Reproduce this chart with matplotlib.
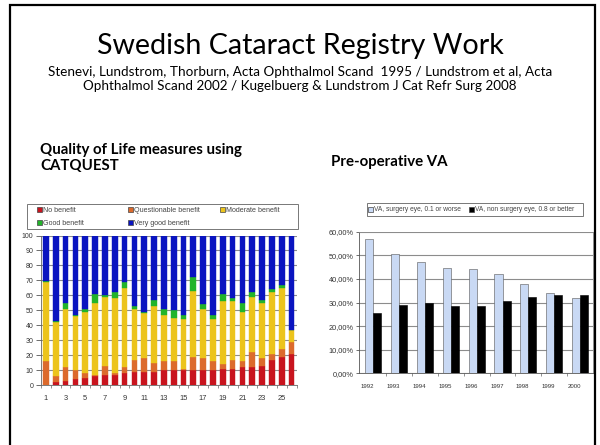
import numpy as np
import matplotlib
matplotlib.use("Agg")
import matplotlib.pyplot as plt
from matplotlib.patches import Rectangle
from matplotlib.ticker import FuncFormatter

# CATQUEST data (percent per category, 26 clinics)
cases = np.arange(1, 27)
no_benefit = [0, 2, 3, 4, 5, 6, 7, 7, 8, 9, 9, 9, 10, 10, 10, 10, 10, 10, 11, 11, 12, 12, 13, 17, 19, 21]
questionable = [16, 4, 9, 6, 3, 1, 6, 1, 4, 8, 9, 6, 6, 6, 1, 9, 8, 6, 3, 6, 4, 10, 5, 4, 5, 8]
moderate = [53, 36, 39, 36, 41, 48, 46, 50, 53, 34, 30, 38, 31, 29, 33, 44, 33, 28, 42, 39, 33, 37, 37, 41, 41, 8]
good = [0.5, 1, 4, 1, 2, 6, 1, 4, 4, 2, 1, 4, 4, 5, 3, 9, 3, 3, 5, 2, 6, 3, 2, 2, 2, 0]
very_good = [30.5, 57, 45, 53, 49, 39, 40, 38, 31, 47, 51, 43, 49, 50, 53, 28, 46, 53, 39, 42, 45, 38, 43, 36, 33, 63]
qol_labels = ["No benefit", "Questionable benefit", "Moderate benefit", "Good benefit", "Very good benefit"]
qol_colors = ["#c8141e", "#dc6a2c", "#ecc41c", "#22b42a", "#0a14c0"]

# Pre-operative VA data
years = ["1992", "1993", "1994", "1995", "1996", "1997", "1998", "1999", "2000"]
surgery_eye = [57.0, 50.5, 47.0, 44.7, 44.2, 42.0, 38.0, 34.0, 31.7]
other_eye = [25.5, 28.8, 30.0, 28.5, 28.5, 30.8, 32.5, 33.2, 33.2]
va_labels = ["VA, surgery eye, 0.1 or worse", "VA, non surgery eye, 0.8 or better"]
va_colors = ["#c9d9f4", "black"]

W, H = 600, 445
fig = plt.figure(figsize=(W / 100, H / 100), dpi=100)
fig.patch.set_facecolor("white")
CH = "Liberation Sans"


def box(x0, y0, x1, y1):
    # pixel box (top-left origin) -> figure fraction rect
    return [x0 / W, 1 - y1 / H, (x1 - x0) / W, (y1 - y0) / H]


def legend_box(x0, y0, x1, y1, entries, size):
    # Excel style legend: frame + fixed-position entries (x, y, label, colour)
    fig.add_artist(Rectangle((x0 / W, 1 - y1 / H), (x1 - x0) / W, (y1 - y0) / H,
                             transform=fig.transFigure, fill=True, fc="white", ec="#777777", lw=0.7))
    for ex, ey, lab, col in entries:
        fig.add_artist(Rectangle(((ex - 2.5) / W, 1 - (ey + 2.5) / H), 5 / W, 5 / H,
                                 transform=fig.transFigure, fc=col, ec="#444444", lw=0.5))
        fig.text((ex + 4) / W, 1 - ey / H, lab, ha="left", va="center", family=CH,
                 fontsize=size, color="#444444")


# slide frame
fig.add_artist(Rectangle((10 / W, -0.05), (595 - 10) / W, 1 - 5 / H + 0.05,
                         transform=fig.transFigure, fill=False, ec="black", lw=1.6))

# titles
fig.text(0.5, 1 - 46 / H, "Swedish Cataract Registry Work", ha="center", va="center",
         family="Lato", fontsize=20.6)
fig.text(0.5, 1 - 72 / H, "Stenevi, Lundstrom, Thorburn, Acta Ophthalmol Scand  1995 / Lundstrom et al, Acta",
         ha="center", va="center", family="Lato", fontsize=9.7)
fig.text(0.5, 1 - 86.5 / H, "Ophthalmol Scand 2002 / Kugelbuerg & Lundstrom J Cat Refr Surg 2008",
         ha="center", va="center", family="Lato", fontsize=9.7)
fig.text(40 / W, 1 - 150 / H, "Quality of Life measures using", ha="left", va="center",
         family="Lato", fontsize=10.8, fontweight="bold")
fig.text(40 / W, 1 - 166 / H, "CATQUEST", ha="left", va="center",
         family="Lato", fontsize=10.8, fontweight="bold")
fig.text(331 / W, 1 - 162 / H, "Pre-operative VA", ha="left", va="center",
         family="Lato", fontsize=10.8, fontweight="bold")

##############################################################
# Left chart: stacked bars
ax1 = fig.add_axes(box(40.5, 235.5, 297, 385))
bottom = np.zeros(len(cases))
for vals, lab, col in zip([no_benefit, questionable, moderate, good, very_good], qol_labels, qol_colors):
    ax1.bar(cases, vals, 0.58, bottom=bottom, color=col, edgecolor=col, linewidth=0.3,
            label=lab, zorder=3)
    bottom += np.array(vals)

ax1.set_xlim(0.45, 26.55)
ax1.set_ylim(0, 100)
ax1.set_yticks(np.arange(0, 101, 10))
ax1.set_xticks(np.arange(1, 27, 2))
ax1.set_xticks(np.arange(0.5, 27, 1), minor=True)
for lab in ax1.get_xticklabels() + ax1.get_yticklabels():
    lab.set_family(CH)
ax1.tick_params(axis="y", labelsize=5, length=3.5, width=0.5, pad=1.5, colors="#333333")
ax1.tick_params(axis="x", which="major", labelsize=5.4, length=0, pad=7, colors="#333333")
ax1.tick_params(axis="x", which="minor", length=2, width=0.5, colors="#666666")
ax1.grid(axis="y", color="#8c8c8c", linewidth=0.8, zorder=0)
for s in ["top", "right"]:
    ax1.spines[s].set_visible(False)
for s in ["left", "bottom"]:
    ax1.spines[s].set_color("#666666")
    ax1.spines[s].set_linewidth(0.6)

legend_box(27, 204, 298, 229,
           [(39, 210, qol_labels[0], qol_colors[0]),
            (130, 210, qol_labels[1], qol_colors[1]),
            (222, 210, qol_labels[2], qol_colors[2]),
            (39, 223, qol_labels[3], qol_colors[3]),
            (130, 223, qol_labels[4], qol_colors[4])], 5.1)

##############################################################
# Right chart: grouped bars
ax2 = fig.add_axes(box(359, 231.7, 593, 373.3))
x = np.arange(len(years))
ax2.bar(x - 0.31, surgery_eye, 0.31, align="edge", color=va_colors[0], edgecolor="#555555",
        linewidth=0.4, zorder=3)
ax2.bar(x, other_eye, 0.31, align="edge", color=va_colors[1], edgecolor="black",
        linewidth=0.4, zorder=3)
ax2.set_xlim(-0.55, 8.5)
ax2.set_ylim(0, 60)
ax2.set_yticks(np.arange(0, 61, 10))
ax2.yaxis.set_major_formatter(FuncFormatter(lambda v, p: f"{v:.2f}%".replace(".", ",")))
ax2.set_xticks(x - 0.22)
ax2.set_xticklabels(years)
ax2.set_xticks(np.arange(0.5, 8.5, 1), minor=True)
for lab in ax2.get_xticklabels() + ax2.get_yticklabels():
    lab.set_family(CH)
ax2.tick_params(axis="y", labelsize=5.3, length=2.5, width=0.5, pad=1.5, colors="#333333")
ax2.tick_params(axis="x", which="major", labelsize=4.3, length=0, pad=8, colors="#333333")
ax2.tick_params(axis="x", which="minor", length=2, width=0.5, colors="#666666")
ax2.grid(axis="y", color="#8c8c8c", linewidth=0.8, zorder=0)
for s in ax2.spines.values():
    s.set_color("#8c8c8c")
    s.set_linewidth(0.6)
ax2.spines["left"].set_color("#555555")
ax2.spines["bottom"].set_color("#555555")

legend_box(367, 203, 583, 216,
           [(370, 209.5, va_labels[0], va_colors[0]),
            (471, 209.5, va_labels[1], va_colors[1])], 4.8)

fig.savefig("out.png", dpi=100)
